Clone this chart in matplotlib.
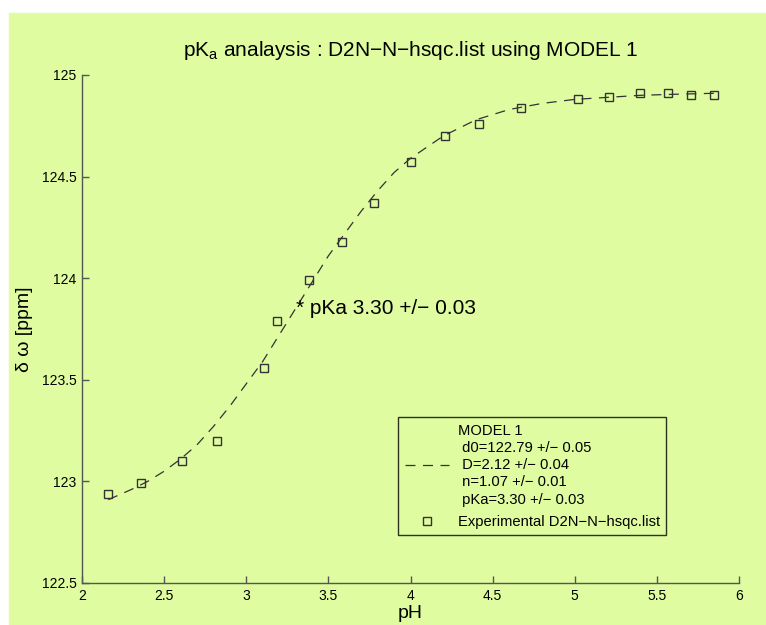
import matplotlib
matplotlib.use("Agg")
import matplotlib.pyplot as plt
from matplotlib.patches import Rectangle

ph_exp = [2.16, 2.36, 2.61, 2.82, 3.11, 3.19, 3.38, 3.58, 3.78, 4.00,
          4.21, 4.42, 4.67, 5.02, 5.21, 5.40, 5.57, 5.71, 5.85]
shift_exp = [122.94, 122.99, 123.10, 123.20, 123.56, 123.79, 123.99, 124.18,
             124.37, 124.57, 124.70, 124.76, 124.84, 124.88, 124.89, 124.91,
             124.91, 124.90, 124.90]

# fitted curve
ph_fit = [2.16, 2.3, 2.4, 2.5, 2.6, 2.7, 2.8, 2.9, 3.0, 3.1, 3.2, 3.3, 3.4,
          3.5, 3.6, 3.7, 3.8, 3.9, 4.0, 4.2, 4.4, 4.6, 4.8, 5.0, 5.2, 5.4,
          5.6, 5.85]
shift_fit = [122.91, 122.96, 123.00, 123.05, 123.11, 123.18, 123.27, 123.37,
             123.48, 123.59, 123.72, 123.85, 123.98, 124.11, 124.22, 124.33,
             124.43, 124.52, 124.59, 124.70, 124.78, 124.83, 124.86, 124.88,
             124.89, 124.90, 124.905, 124.91]

pka, pka_err = 3.30, 0.03
pka_shift = 123.85

x_ticks = [2, 2.5, 3, 3.5, 4, 4.5, 5, 5.5, 6]
x_ticklabels = ["2", "2.5", "3", "3.5", "4", "4.5", "5", "5.5", "6"]
y_ticks = [122.5, 123, 123.5, 124, 124.5, 125]
y_ticklabels = ["122.5", "123", "123.5", "124", "124.5", "125"]

fit_label = ("MODEL 1\n d0=122.79 +/\u2212 0.05\n D=2.12 +/\u2212 0.04\n"
             " n=1.07 +/\u2212 0.01\n pKa=3.30 +/\u2212 0.03")
exp_label = "Experimental D2N\u2212N\u2212hsqc.list"
title_txt = "pK$_\\mathregular{a}$ analaysis : D2N\u2212N\u2212hsqc.list using MODEL 1"

BG = "#dffca0"
INK = "#333333"

plt.rcParams['font.family'] = ['Liberation Sans', 'DejaVu Sans']

fig = plt.figure(figsize=(7.66, 6.25), dpi=100, facecolor="white")
fig.patches.append(Rectangle((9 / 766, 0), 1, 1 - 13 / 625,
                             transform=fig.transFigure, color=BG, zorder=-10))

ax = fig.add_axes([82 / 766, 1 - 583 / 625, 657 / 766, 508 / 625])
ax.set_facecolor("none")

ax.plot(ph_fit, shift_fit, linestyle=(0, (8, 6)), color=INK, linewidth=0.9,
        label=fit_label)
ax.plot(ph_exp, shift_exp, linestyle="none", marker="s", markersize=6,
        markerfacecolor="none", markeredgecolor=INK, markeredgewidth=1.0,
        label=exp_label)

ax.text(pka, pka_shift, "* pKa %.2f +/\u2212 %.2f" % (pka, pka_err),
        fontsize=15, va="center", ha="left", color="black")

ax.set_xlim(2, 6)
ax.set_ylim(122.5, 125)
ax.set_xticks(x_ticks)
ax.set_xticklabels(x_ticklabels)
ax.set_yticks(y_ticks)
ax.set_yticklabels(y_ticklabels)
ax.tick_params(direction="in", length=5, width=1, color="#555555",
               labelsize=10, pad=4)

for side in ("top", "right"):
    ax.spines[side].set_visible(False)
for side in ("left", "bottom"):
    ax.spines[side].set_color("#555555")
    ax.spines[side].set_linewidth(1.0)

ax.set_xlabel("pH", fontsize=14, labelpad=2)
ax.set_ylabel("\u03b4 \u03c9 [ppm]", fontsize=14, labelpad=6)
ax.set_title(title_txt, fontsize=15, pad=14)

leg = ax.legend(loc="upper left", bbox_to_anchor=(0.481, 0.327),
                fontsize=10.6, frameon=True, fancybox=False, handlelength=3.0,
                borderpad=0.45, labelspacing=0.55, handletextpad=0.6,
                borderaxespad=0)
for t in leg.get_texts():
    t.set_linespacing(1.3)
leg.get_frame().set_edgecolor("black")
leg.get_frame().set_facecolor("none")
leg.get_frame().set_linewidth(1.0)

fig.savefig("out.png", dpi=100, facecolor=fig.get_facecolor())
